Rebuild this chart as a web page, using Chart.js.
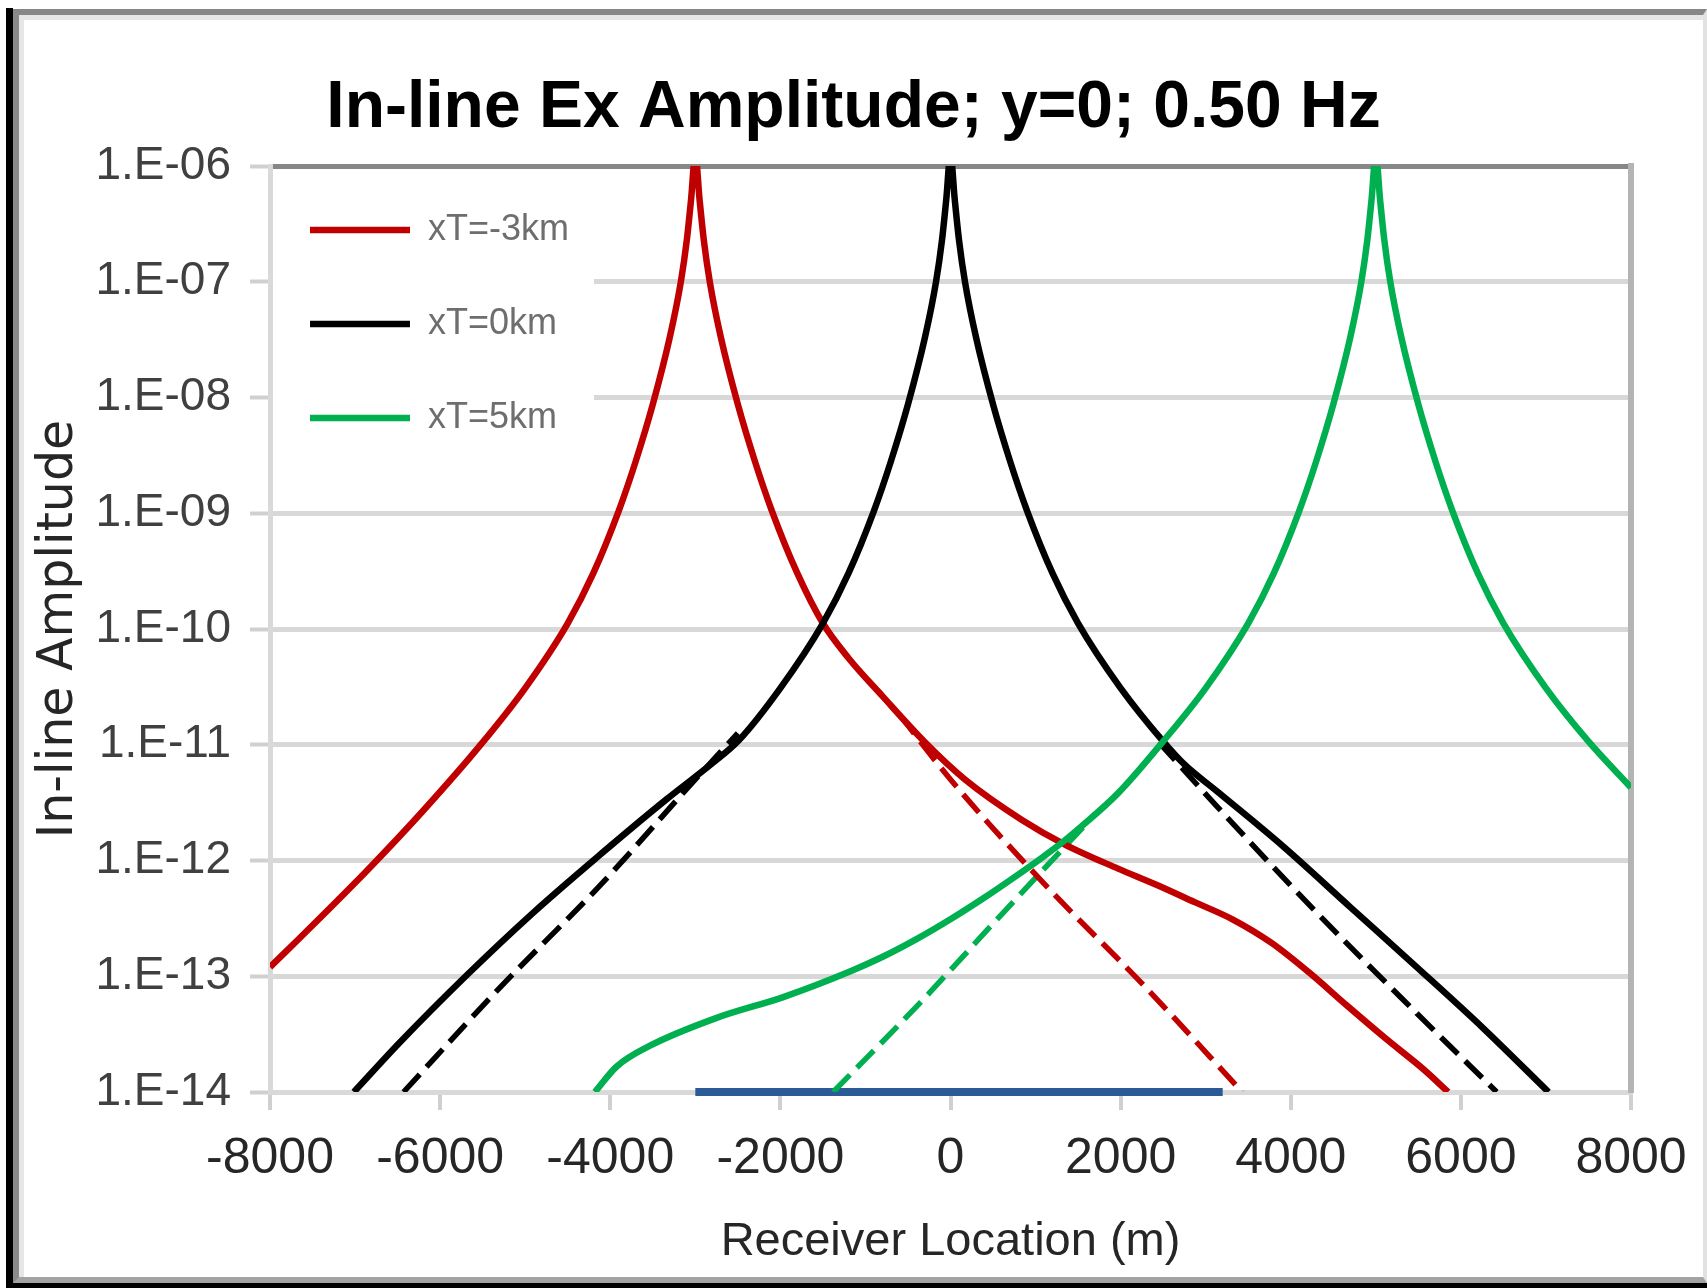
<!DOCTYPE html>
<html>
<head>
<meta charset="utf-8">
<title>In-line Ex Amplitude</title>
<script src="https://cdn.jsdelivr.net/npm/chart.js"></script>
<style>
  html, body { margin: 0; padding: 0; background: #fff; }
  #wrap { position: relative; width: 1707px; height: 1288px; overflow: hidden; }
  /* the window frame round the pasted chart */
  #frameOuter { position: absolute; left: 6px; top: 8px; right: 0; bottom: 0; border-left: 7px solid #000; border-bottom: 5px solid #000; }
  #frameInner { position: absolute; left: 13px; top: 9px; right: 0; bottom: 5px; border-left: 6px solid #8a8a8a; border-top: 6px solid #878787; border-bottom: 6px solid #a3a3a3; border-right: 4px solid #e2e2e2; box-shadow: inset 5px 5px 0 #e6e6e6; }
  #chartBox { position: absolute; left: 0; top: 0; width: 1707px; height: 1288px; }
</style>
</head>
<body>
<div id="wrap">
  <div id="frameOuter"></div>
  <div id="frameInner"></div>
  <div id="chartBox"><canvas id="myChart"></canvas></div>
</div>
<script>
//axis ticks
const xTicks = [-8000, -6000, -4000, -2000, 0, 2000, 4000, 6000, 8000];
const xTickLabels = ['-8000', '-6000', '-4000', '-2000', '0', '2000', '4000', '6000', '8000'];
const yTicks = [1e-14, 1e-13, 1e-12, 1e-11, 1e-10, 1e-9, 1e-8, 1e-7, 1e-6];
const yTickLabels = ['1.E-14', '1.E-13', '1.E-12', '1.E-11', '1.E-10', '1.E-09', '1.E-08', '1.E-07', '1.E-06'];

const seriesNames = ['xT=-3km', 'xT=0km', 'xT=5km'];

//receiver location (m) and amplitude
//transmitter at -3 km
const redX = [-8000, -7650, -6850, -6200, -5535, -5000, -4500, -4200, -3900, -3700, -3500, -3300, -3170, -3100, -3050, -3000, -2950, -2900, -2830, -2700, -2500, -2300, -2100, -1800, -1500, -1200, -800, -300, 170, 840, 1340, 1970, 2420, 2870, 3320, 3770, 4220, 4670, 5120, 5570, 5850];
const redY = [1.2e-13, 2.14e-13, 8.32e-13, 2.69e-12, 9.77e-12, 3.09e-11, 1.12e-10, 3.02e-10, 1.05e-9, 2.82e-9, 8.71e-9, 3.31e-8, 1.0e-7, 2.29e-7, 5.13e-7, 1.26e-6, 5.13e-7, 2.29e-7, 1.0e-7, 3.31e-8, 8.71e-9, 2.82e-9, 1.05e-9, 3.02e-10, 1.12e-10, 5.62e-11, 2.63e-11, 1.05e-11, 5.01e-12, 2.24e-12, 1.38e-12, 8.51e-13, 6.17e-13, 4.37e-13, 3.09e-13, 1.95e-13, 1.07e-13, 5.5e-14, 2.88e-14, 1.55e-14, 1.0e-14];

//transmitter at 0 km
const blackX = [-7014, -6472, -5688, -4904, -4121, -3336, -2800, -2500, -2000, -1500, -1200, -900, -700, -500, -300, -170, -100, -50, 0, 50, 100, 170, 300, 500, 700, 900, 1200, 1500, 2000, 2500, 2750, 3129, 3912, 4696, 5481, 6264, 7030];
const blackY = [1.0e-14, 2.69e-14, 1.02e-13, 3.55e-13, 1.12e-12, 3.39e-12, 6.92e-12, 1.07e-11, 3.09e-11, 1.12e-10, 3.02e-10, 1.05e-9, 2.82e-9, 8.71e-9, 3.31e-8, 1.0e-7, 2.29e-7, 5.13e-7, 1.26e-6, 5.13e-7, 2.29e-7, 1.0e-7, 3.31e-8, 8.71e-9, 2.82e-9, 1.05e-9, 3.02e-10, 1.12e-10, 3.09e-11, 1.07e-11, 6.76e-12, 3.98e-12, 1.32e-12, 3.98e-13, 1.2e-13, 3.55e-14, 1.0e-14];

//transmitter at 5 km
const greenX = [-4180, -3924, -3533, -2749, -1966, -1182, -790, -400, -6, 400, 778, 1069, 1338, 1518, 1968, 2500, 3000, 3500, 3800, 4100, 4300, 4500, 4700, 4830, 4900, 4950, 5000, 5050, 5100, 5170, 5300, 5500, 5700, 5900, 6200, 6500, 7000, 7500, 8000];
const greenY = [1.0e-14, 1.66e-14, 2.51e-14, 4.37e-14, 6.61e-14, 1.1e-13, 1.48e-13, 2.09e-13, 3.09e-13, 4.79e-13, 7.41e-13, 1.05e-12, 1.48e-12, 1.91e-12, 3.8e-12, 1.07e-11, 3.09e-11, 1.12e-10, 3.02e-10, 1.05e-9, 2.82e-9, 8.71e-9, 3.31e-8, 1.0e-7, 2.29e-7, 5.13e-7, 1.26e-6, 5.13e-7, 2.29e-7, 1.0e-7, 3.31e-8, 8.71e-9, 2.82e-9, 1.05e-9, 3.02e-10, 1.12e-10, 3.09e-11, 1.07e-11, 4.27e-12];

//dashed curves (no target)
const redDashX = [-600, 0, 1100, 2300, 3430];
const redDashY = [1.82e-11, 5.01e-12, 6.31e-13, 7.94e-14, 1.0e-14];
const blackDashLeftX = [-6430, -5300, -4100, -3000, -2500];
const blackDashLeftY = [1.0e-14, 7.94e-14, 6.31e-13, 5.01e-12, 1.26e-11];
const blackDashRightX = [2450, 3129, 4305, 5481, 6421];
const blackDashRightY = [1.05e-11, 2.95e-12, 3.55e-13, 4.79e-14, 1.0e-14];
const greenDashX = [-1380, -397, 621, 1700];
const greenDashY = [1.0e-14, 5.5e-14, 3.55e-13, 2.51e-12];

//extent of the target, drawn along the bottom axis
const targetX = [-3000, 3200];
const targetY = [1e-14, 1e-14];

function toPoints(xs, ys) {
    return xs.map(function(x, i) { return {x: x, y: ys[i]}; });
}

const RED = '#C00000', BLACK = '#000000', GREEN = '#00B050', BLUE = '#2C5A96';
const DASH = [24, 10];

function curve(label, xs, ys, color, order, dash) {
    return {
        label: label,
        data: toPoints(xs, ys),
        borderColor: color,
        backgroundColor: color,
        borderWidth: dash ? 5.5 : 6.5,
        borderDash: dash ? DASH : [],
        pointRadius: 0,
        cubicInterpolationMode: 'monotone',
        fill: false,
        order: order
    };
}

//legend sits inside the plot, top left, like the original
const legendPlace = {
    id: 'legendPlace',
    afterLayout(chart) {
        const legend = chart.legend;
        const area = chart.chartArea;
        legend.left = area.left - 18;
        legend.top = area.top - 12;
        legend.right = legend.left + legend.width;
        legend.bottom = legend.top + legend.height;
    },
    //white box behind the legend, then the legend again on top of it
    beforeDatasetsDraw(chart) {
        const legend = chart.legend;
        const boxes = legend && legend.legendHitBoxes;
        if (!boxes || !boxes.length) return;
        const area = chart.chartArea;
        let right = 0;
        boxes.forEach(function(b) { right = Math.max(right, b.left + b.width); });
        const last = boxes[boxes.length - 1];
        const top = boxes[0].top - 30;
        const bottom = last.top + last.height + 30;
        const ctx = chart.ctx;
        ctx.save();
        ctx.fillStyle = '#ffffff';
        ctx.fillRect(area.left + 3, top, right + 25 - area.left - 3, bottom - top);
        ctx.restore();
        legend.draw();
    }
};

new Chart('myChart', {
    type: 'line',
    data: {
        datasets: [
            curve(seriesNames[0], redX, redY, RED, 2, false),
            curve(seriesNames[1], blackX, blackY, BLACK, 1, false),
            curve(seriesNames[2], greenX, greenY, GREEN, 0, false),
            curve(seriesNames[0] + ' (dashed)', redDashX, redDashY, RED, 3, true),
            curve(seriesNames[1] + ' (dashed)', blackDashLeftX, blackDashLeftY, BLACK, 3, true),
            curve(seriesNames[1] + ' (dashed)', blackDashRightX, blackDashRightY, BLACK, 3, true),
            curve(seriesNames[2] + ' (dashed)', greenDashX, greenDashY, GREEN, 3, true),
            {
                label: 'target',
                data: toPoints(targetX, targetY),
                borderColor: BLUE,
                borderWidth: 8,
                pointRadius: 0,
                fill: false,
                clip: 6,
                order: 4
            }
        ]
    },
    options: {
        responsive: true,
        maintainAspectRatio: false,
        animation: false,
        layout: { padding: 0 },
        scales: {
            x: {
                type: 'linear',
                position: 'bottom',
                min: -8000,
                max: 8000,
                afterBuildTicks: function(scale) { scale.ticks = xTicks.map(function(v) { return {value: v}; }); },
                afterFit: function(scale) { scale.height = 196; },
                ticks: {
                    autoSkip: false,
                    maxRotation: 0,
                    padding: 19,
                    color: '#262626',
                    font: { family: "'Liberation Sans', Arial, sans-serif", size: 50 },
                    callback: function(value, index) { return xTickLabels[index]; }
                },
                grid: { drawOnChartArea: false, drawTicks: true, tickLength: 18, tickColor: '#D0D0D0', tickWidth: 4, color: '#D0D0D0', lineWidth: 4 },
                border: { color: '#D9D9D9', width: 5 },
                title: {
                    display: true,
                    text: 'Receiver Location (m)',
                    color: '#262626',
                    font: { family: "'Liberation Sans', Arial, sans-serif", size: 47, lineHeight: 1.2 },
                    padding: { top: 0, bottom: 18 }
                }
            },
            x2: {
                type: 'linear',
                position: 'top',
                min: -8000,
                max: 8000,
                afterFit: function(scale) { scale.height = 0; },
                ticks: { display: false },
                grid: { drawOnChartArea: false, drawTicks: false },
                border: { color: '#878787', width: 5 }
            },
            y: {
                type: 'logarithmic',
                position: 'left',
                min: 1e-14,
                max: 1e-6,
                afterBuildTicks: function(scale) { scale.ticks = yTicks.map(function(v) { return {value: v}; }); },
                afterFit: function(scale) { scale.width = 270; },
                ticks: {
                    autoSkip: false,
                    padding: 19,
                    color: '#404040',
                    font: { family: "'Liberation Sans', Arial, sans-serif", size: 46 },
                    callback: function(value, index) { return yTickLabels[index]; }
                },
                grid: { color: '#D8D8D8', lineWidth: 5, tickLength: 20, tickColor: '#D0D0D0', tickWidth: 4 },
                border: { color: '#D9D9D9', width: 5 },
                title: {
                    display: true,
                    text: 'In-line Amplitude',
                    color: '#262626',
                    font: { family: "'DejaVu Sans', sans-serif", size: 49, lineHeight: 1.2 },
                    padding: { top: 30, bottom: 0 }
                }
            },
            y2: {
                type: 'linear',
                position: 'right',
                min: 0,
                max: 1,
                afterFit: function(scale) { scale.width = 76; },
                ticks: { display: false },
                grid: { drawOnChartArea: false, drawTicks: false },
                border: { color: '#B4B4B4', width: 6 }
            }
        },
        plugins: {
            title: {
                display: true,
                text: 'In-line Ex Amplitude; y=0; 0.50 Hz',
                color: '#000000',
                font: { family: "'Liberation Sans', Arial, sans-serif", size: 66, weight: 'bold', lineHeight: 1 },
                padding: { top: 76, bottom: 24 }
            },
            legend: {
                display: true,
                position: 'chartArea',
                align: 'start',
                labels: {
                    usePointStyle: true,
                    pointStyle: 'line',
                    pointStyleWidth: 100,
                    padding: 58,
                    color: '#6E6E6E',
                    font: { family: "'Liberation Sans', Arial, sans-serif", size: 36 },
                    filter: function(item) { return item.datasetIndex < 3; },
                    sort: function(a, b) { return a.datasetIndex - b.datasetIndex; }
                }
            },
            tooltip: { enabled: false }
        }
    },
    plugins: [legendPlace]
});
</script>
</body>
</html>
